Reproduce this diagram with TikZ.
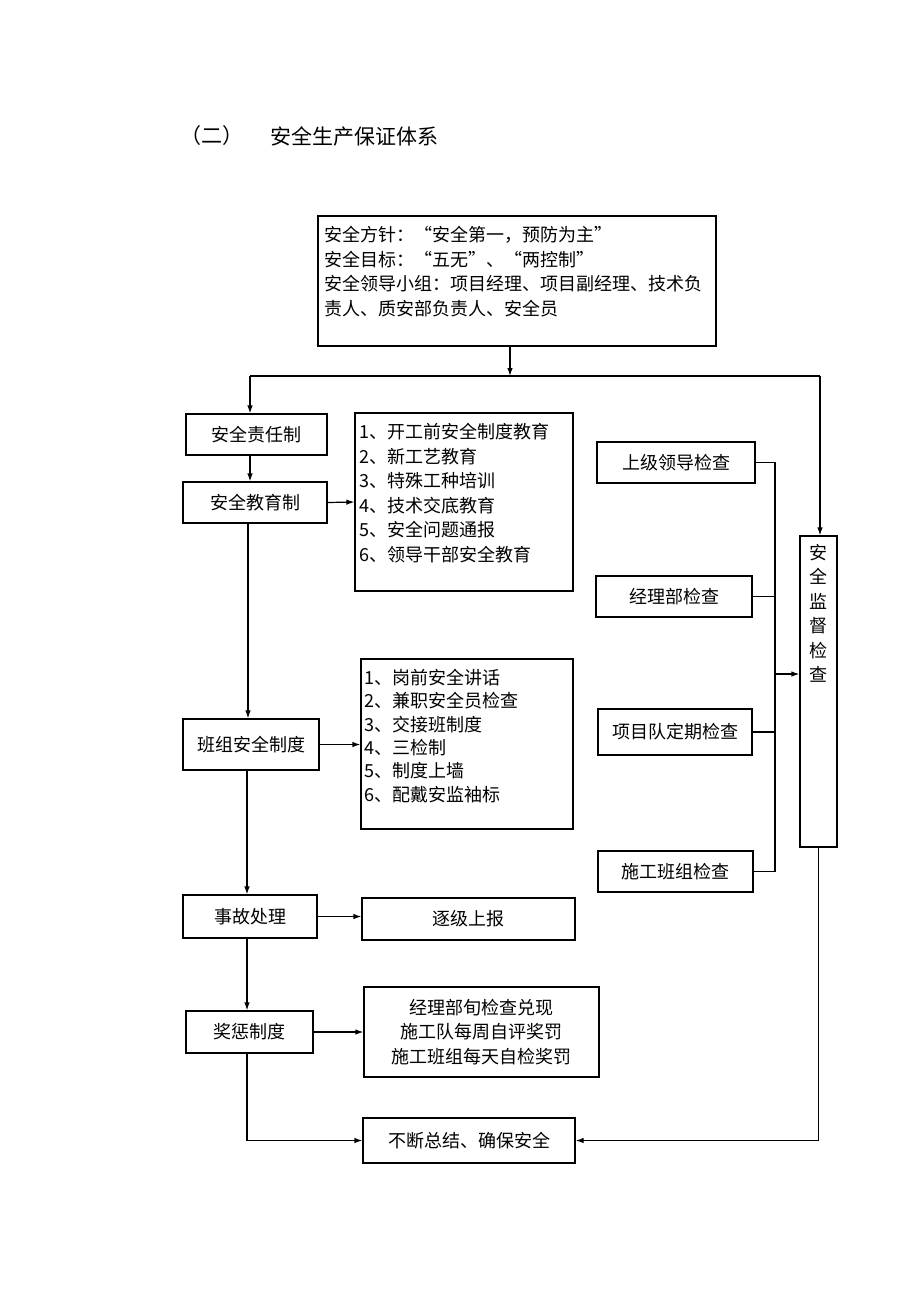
\documentclass[tikz,border=0pt]{standalone}
\usepackage{fontspec}
\setmainfont{Noto Sans CJK SC}
\usetikzlibrary{arrows.meta,positioning}

\tikzset{
  box/.style={draw, line width=1.2pt, inner sep=0pt, font=\fontsize{18}{24.5}\selectfont},
  txt/.style={inner sep=0pt, align=left, font=\fontsize{18}{24.5}\selectfont},
  line/.style={line width=1.2pt},
  arr/.style={line width=1.2pt, -{Latex[length=8pt,width=5.5pt]}}
}

\begin{document}
\begin{tikzpicture}[x=1pt, y=-1pt]
    \useasboundingbox (0,0) rectangle (920,1302);

    % Title
    \node[txt, anchor=west, font=\fontsize{21}{24}\selectfont] (titlenum) at (180,136) {（二）};
    \node[txt, anchor=west, font=\fontsize{21}{24}\selectfont] (titletext) at (270,136) {安全生产保证体系};

    % Policy box on top
    \node[box, minimum width=398pt, minimum height=130pt] (policy) at (517,281) {};
    \node[txt, anchor=north west] (policytext) at (324,226)
        {安全方针：“安全第一，预防为主”\\安全目标：“五无”、“两控制”\\安全领导小组：项目经理、项目副经理、技术负\\责人、质安部负责人、安全员};

    % Left column
    \node[box, minimum width=141pt, minimum height=41pt] (resp) at (256.5,434.5) {安全责任制};
    \node[box, minimum width=144pt, minimum height=41pt] (edu) at (255,502.5) {安全教育制};
    \node[box, minimum width=136pt, minimum height=51pt] (team) at (251,744.5) {班组安全制度};
    \node[box, minimum width=134pt, minimum height=43pt] (acc) at (250,916.5) {事故处理};
    \node[box, minimum width=127pt, minimum height=42pt] (reward) at (249.5,1032) {奖惩制度};

    % Middle column
    \node[box, minimum width=218pt, minimum height=178pt] (edulist) at (464,502) {};
    \node[txt, anchor=north west] (edutext) at (359,423)
        {1、开工前安全制度教育\\2、新工艺教育\\3、特殊工种培训\\4、技术交底教育\\5、安全问题通报\\6、领导干部安全教育};
    \node[box, minimum width=212pt, minimum height=170pt] (teamlist) at (467,744) {};
    \node[txt, anchor=north west, font=\fontsize{18}{23.3}\selectfont] (teamtext) at (364,669)
        {1、岗前安全讲话\\2、兼职安全员检查\\3、交接班制度\\4、三检制\\5、制度上墙\\6、配戴安监袖标};
    \node[box, minimum width=213pt, minimum height=42pt] (report) at (468.5,919) {逐级上报};
    \node[box, minimum width=235pt, minimum height=90pt, align=center] (rewardlist) at (481.5,1032)
        {经理部旬检查兑现\\施工队每周自评奖罚\\施工班组每天自检奖罚};
    \node[box, minimum width=212pt, minimum height=45pt] (sum) at (469,1140.5) {不断总结、确保安全};

    % Right column
    \node[box, minimum width=158pt, minimum height=41pt] (chk1) at (676,462.5) {上级领导检查};
    \node[box, minimum width=156pt, minimum height=41pt] (chk2) at (674,596.5) {经理部检查};
    \node[box, minimum width=154pt, minimum height=46pt] (chk3) at (675,732) {项目队定期检查};
    \node[box, minimum width=155pt, minimum height=41pt] (chk4) at (675.5,871.5) {施工班组检查};
    \node[box, minimum width=37pt, minimum height=311pt] (super) at (818.5,691.5) {};
    \node[txt, anchor=north, align=center] (supertext) at (818.5,544) {安\\全\\监\\督\\检\\查};

    % Bus under the policy box
    \coordinate (busM) at (510,376);
    \coordinate (busL) at (250,376);
    \coordinate (busR) at (820,376);
    \draw[arr] (policy.south -| busM) -- (busM);
    \draw[line] (busL) -- (busR);
    \draw[arr] (busL) -- (busL |- resp.north);
    \draw[arr] (busR) -- (busR |- super.north);

    % Left column arrows
    \draw[arr] (resp.south -| busL) -- (busL |- edu.north);
    \draw[arr] (edu.south -| 248,0) -- (248,0 |- team.north);
    \draw[arr] (team.south -| 247,0) -- (247,0 |- acc.north);
    \draw[arr] (acc.south -| 247,0) -- (247,0 |- reward.north);
    \draw[arr] (reward.south -| 247,0) |- (sum.west);

    % Arrows to the middle column
    \draw[arr] (edu.east) -- (edulist.west);
    \draw[arr] (team.east) -- (team.east -| teamlist.west);
    \draw[arr] (acc.east) -- (acc.east -| report.west);
    \draw[arr] (reward.east) -- (reward.east -| rewardlist.west);

    % Checks into the supervision box
    \coordinate (chkbus) at (775,674);
    \draw[line] (chk1.east) -| (chkbus);
    \draw[line] (chk4.east) -| (chkbus);
    \draw[line] (chk2.east) -- (chk2.east -| chkbus);
    \draw[line] (chk3.east) -- (chk3.east -| chkbus);
    \draw[arr] (chkbus) -- (chkbus -| super.west);
    \draw[arr] (super.south) |- (sum.east);
\end{tikzpicture}
\end{document}
